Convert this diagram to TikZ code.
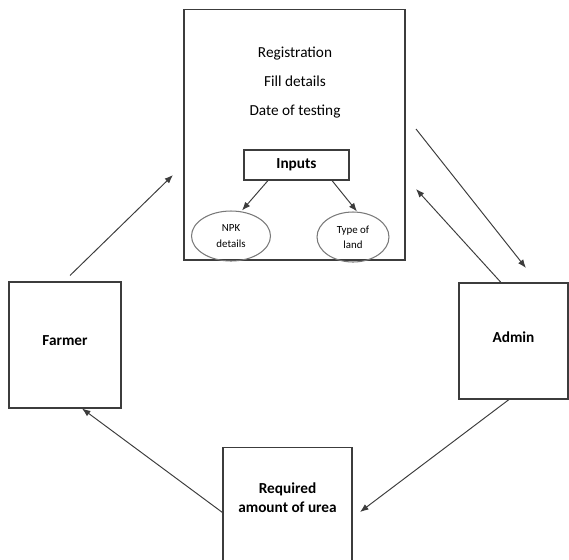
\documentclass[tikz,border=0pt]{standalone}
\usepackage{fontspec}
\setmainfont{Carlito}
\usetikzlibrary{arrows.meta,positioning,shapes.geometric}
\definecolor{edge}{RGB}{60,60,60}
\definecolor{rim}{RGB}{120,120,120}
\tikzset{
  >={Latex[length=1.7mm,width=1.3mm]},
  box/.style={draw=edge,line width=0.6pt,inner sep=0pt,align=center,
    font=\fontsize{8.7}{10.8}\selectfont\bfseries},
  txt/.style={inner sep=1pt,font=\fontsize{8.7}{10.8}\selectfont},
  oval/.style={ellipse,draw=rim,line width=0.6pt,inner sep=0pt,align=center,
    minimum height=1cm,font=\fontsize{6.2}{8.6}\selectfont},
  flow/.style={->,draw=edge,line width=0.55pt},
}

\begin{document}
\begin{tikzpicture}[x=0.02cm,y=-0.02cm]
  \useasboundingbox (0,0) rectangle (569,559);
  % main form
  \node[box,minimum width=4.42cm,minimum height=5.02cm] (form) at (294.5,134.5) {};
  \foreach \t/\y [count=\i] in {Registration/54,Fill details/81,Date of testing/112}
    \node[txt] (line\i) at (295,\y) {\t};
  \node[box,minimum width=2.1cm,minimum height=0.6cm] (inputs) at (296.5,165) {Inputs};
  \node[oval,minimum width=1.58cm] (npk) at (231,236) {NPK\\details};
  \node[oval,minimum width=1.44cm] (land) at (353,237) {Type of\\land};
  \draw[flow] ([xshift=-0.57cm]inputs.south) -- ([xshift=0.22cm]npk.north);
  \draw[flow] ([xshift=0.71cm]inputs.south) -- ([xshift=0.08cm]land.north);

  % actors
  \node[box,minimum width=2.24cm,minimum height=2.52cm,text depth=0.16cm] (farmer) at (65,345) {Farmer};
  \node[box,minimum width=2.18cm,minimum height=2.32cm,text depth=0.16cm] (admin) at (513.5,341) {Admin};
  \node[box,minimum width=2.58cm,minimum height=2.6cm,anchor=north] (urea) at (287.5,447) {};
  \node[box,draw=none] (ureatxt) at ([yshift=-1.02cm]urea.north) {Required\\amount of urea};

  % free ends
  \coordinate (in1) at (173,175);
  \coordinate (out1) at (416,129);
  \coordinate (in2) at (526,268);
  \coordinate (out2) at (416,189);
  \coordinate (in3) at (360,512);

  \draw[flow] ([xshift=0.1cm,yshift=0.12cm]farmer.north) -- (in1);
  \draw[flow] (out1) -- (in2);
  \draw[flow] ([xshift=-0.25cm]admin.north) -- (out2);
  \draw[flow] ([xshift=-0.09cm]admin.south) -- (in3);
  \draw[flow] (urea.west) -- ([xshift=0.34cm]farmer.south);
\end{tikzpicture}
\end{document}
